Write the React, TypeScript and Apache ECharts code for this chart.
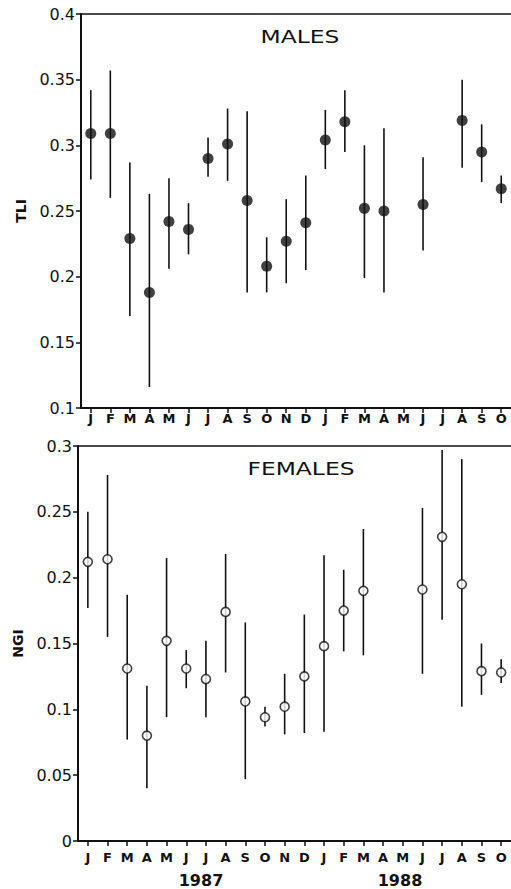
import React, { useEffect, useRef } from "react";
import * as echarts from "echarts";

const months = ["J", "F", "M", "A", "M", "J", "J", "A", "S", "O", "N", "D", "J", "F", "M", "A", "M", "J", "J", "A", "S", "O"];
const yearLabels = ["1987", "1988"];

const maleMean = [0.309, 0.309, 0.229, 0.188, 0.242, 0.236, 0.29, 0.301, 0.258, 0.208, 0.227, 0.241, 0.304, 0.318, 0.252, 0.25, null, 0.255, null, 0.319, 0.295, 0.267];
const maleLow = [0.274, 0.26, 0.17, 0.116, 0.206, 0.217, 0.276, 0.273, 0.188, 0.188, 0.195, 0.205, 0.282, 0.295, 0.199, 0.188, null, 0.22, null, 0.283, 0.272, 0.256];
const maleHigh = [0.342, 0.357, 0.287, 0.263, 0.275, 0.256, 0.306, 0.328, 0.326, 0.23, 0.259, 0.277, 0.327, 0.342, 0.3, 0.313, null, 0.291, null, 0.35, 0.316, 0.277];

const femaleMean = [0.212, 0.214, 0.131, 0.08, 0.152, 0.131, 0.123, 0.174, 0.106, 0.094, 0.102, 0.125, 0.148, 0.175, 0.19, null, null, 0.191, 0.231, 0.195, 0.129, 0.128];
const femaleLow = [0.177, 0.155, 0.077, 0.04, 0.094, 0.116, 0.094, 0.128, 0.047, 0.087, 0.081, 0.082, 0.083, 0.144, 0.141, null, null, 0.127, 0.168, 0.102, 0.111, 0.12];
const femaleHigh = [0.25, 0.278, 0.187, 0.118, 0.215, 0.145, 0.152, 0.218, 0.166, 0.102, 0.127, 0.172, 0.217, 0.206, 0.237, null, null, 0.253, 0.297, 0.29, 0.15, 0.138];

const INK = "#111111";

function pts(mean: (number | null)[]) {
  const out: number[][] = [];
  mean.forEach((v, i) => {
    if (v != null) out.push([i, v]);
  });
  return out;
}
function bars(lo: (number | null)[], hi: (number | null)[]) {
  const out: number[][] = [];
  lo.forEach((v, i) => {
    const h = hi[i];
    if (v != null && h != null) out.push([i, v, h]);
  });
  return out;
}

const renderBar = (params: any, api: any) => {
  const x = api.value(0);
  const p1 = api.coord([x, api.value(1)]);
  const p2 = api.coord([x, api.value(2)]);
  return {
    type: "line",
    shape: { x1: p1[0], y1: p1[1], x2: p2[0], y2: p2[1] },
    style: { stroke: INK, lineWidth: 1.6 },
  };
};

export default function App() {
  const ref = useRef<HTMLDivElement>(null);
  useEffect(() => {
    if (!ref.current) return;
    const chart = echarts.init(ref.current, null, { renderer: "svg" });
    const fmt = (v: number) => String(+v.toFixed(2));
    const xBottom = (gridIndex: number, margin: number) => ({
      type: "category",
      gridIndex,
      data: months,
      position: "bottom",
      boundaryGap: true,
      axisLine: { show: true, lineStyle: { color: INK, width: 2 } },
      axisTick: { show: true, alignWithLabel: true, length: 5, lineStyle: { color: INK, width: 1.5 } },
      axisLabel: {
        show: true,
        interval: 0,
        margin,
        color: INK,
        fontFamily: "DejaVu Sans",
        fontWeight: "bold",
        fontSize: 13,
      },
      splitLine: { show: false },
    });
    const xTop = (gridIndex: number) => ({
      type: "category",
      gridIndex,
      data: months,
      position: "top",
      axisLine: { show: true, lineStyle: { color: INK, width: 1.5 } },
      axisTick: { show: false },
      axisLabel: { show: false },
      splitLine: { show: false },
    });
    const yAx = (gridIndex: number, min: number, max: number, name: string) => ({
      type: "value",
      gridIndex,
      min,
      max,
      interval: 0.05,
      name,
      nameLocation: "middle",
      nameGap: 51,
      nameRotate: 90,
      nameTextStyle: { color: INK, fontFamily: "DejaVu Sans", fontWeight: "bold", fontSize: 14 },
      axisLine: { show: true, lineStyle: { color: INK, width: 2 } },
      axisTick: { show: true, length: 5, lineStyle: { color: INK, width: 1.5 } },
      axisLabel: {
        show: true,
        margin: 6,
        color: INK,
        fontFamily: "DejaVu Sans",
        fontSize: 16,
        formatter: fmt,
      },
      splitLine: { show: false },
    });
    const titleStyle = {
      x: 0,
      y: 0,
      align: "center",
      verticalAlign: "middle",
      fill: INK,
      fontFamily: "DejaVu Sans",
      fontSize: 18,
    };
    const yearStyle = {
      align: "center",
      verticalAlign: "middle",
      fill: INK,
      fontFamily: "DejaVu Sans",
      fontWeight: "bold",
      fontSize: 16,
    };
    chart.setOption({
      animation: false,
      backgroundColor: "#ffffff",
      grid: [
        { left: 81, top: 14, width: 432, height: 394 },
        { left: 78, top: 446, width: 433, height: 395 },
      ],
      xAxis: [xBottom(0, 4), xTop(0), xBottom(1, 10), xTop(1)],
      yAxis: [yAx(0, 0.1, 0.4, "TLI"), yAx(1, 0, 0.3, "NGI")],
      series: [
        {
          type: "custom",
          xAxisIndex: 0,
          yAxisIndex: 0,
          data: bars(maleLow, maleHigh),
          encode: { x: 0, y: [1, 2] },
          renderItem: renderBar,
        },
        {
          type: "scatter",
          xAxisIndex: 0,
          yAxisIndex: 0,
          data: pts(maleMean),
          symbol: "circle",
          symbolSize: 11,
          itemStyle: { color: INK },
        },
        {
          type: "custom",
          xAxisIndex: 2,
          yAxisIndex: 1,
          data: bars(femaleLow, femaleHigh),
          encode: { x: 0, y: [1, 2] },
          renderItem: renderBar,
        },
        {
          type: "scatter",
          xAxisIndex: 2,
          yAxisIndex: 1,
          data: pts(femaleMean),
          symbol: "circle",
          symbolSize: 9,
          itemStyle: { color: "#ffffff", borderColor: INK, borderWidth: 1.6 },
        },
      ],
      graphic: [
        { type: "text", x: 300, y: 37, scaleX: 1.3, style: { ...titleStyle, text: "MALES" } },
        { type: "text", x: 301, y: 469, scaleX: 1.3, style: { ...titleStyle, text: "FEMALES" } },
        { type: "text", x: 201, y: 880, style: { ...yearStyle, text: yearLabels[0] } },
        { type: "text", x: 400, y: 880, style: { ...yearStyle, text: yearLabels[1] } },
      ],
    });
    return () => chart.dispose();
  }, []);
  return (
    <div
      ref={ref}
      style={{ position: "absolute", left: 0, top: 0, width: 511, height: 889 }}
    />
  );
}
